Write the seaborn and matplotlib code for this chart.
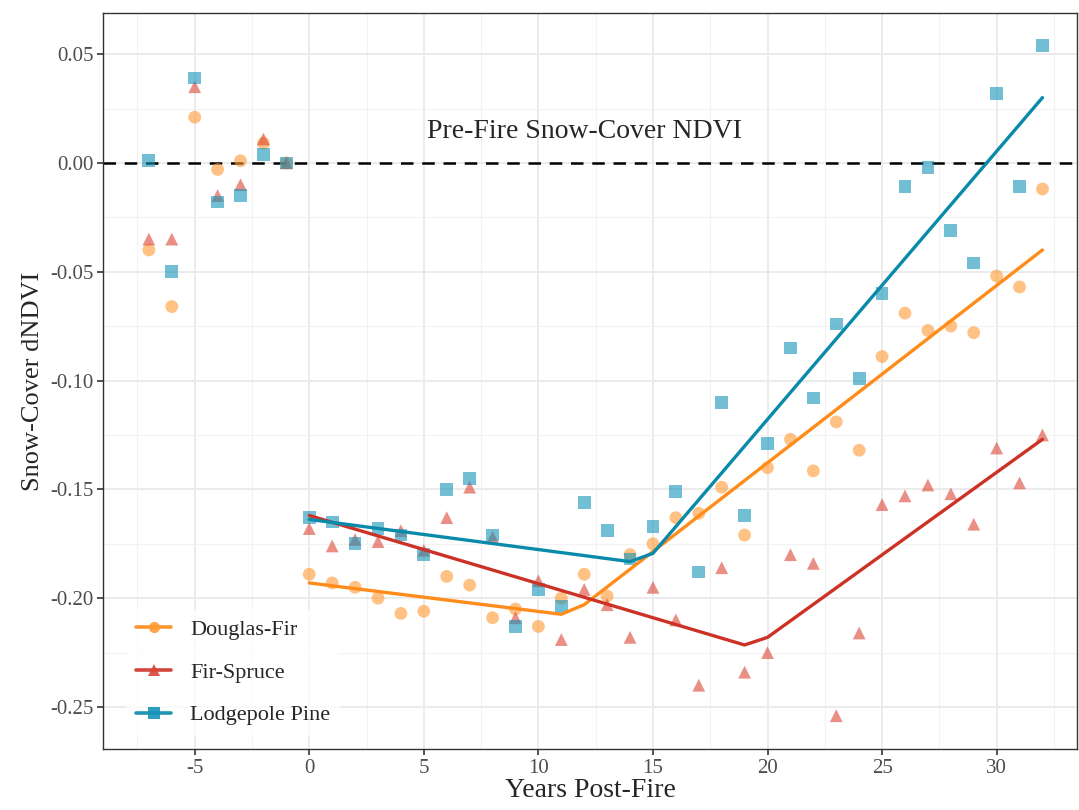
import numpy as np
import pandas as pd
import matplotlib
matplotlib.use("Agg")
import matplotlib.pyplot as plt
from matplotlib.lines import Line2D
from matplotlib.ticker import MultipleLocator
import seaborn as sns

# yearly snow-cover dNDVI, years -7 .. 32
years = list(range(-7, 33))

douglas_fir = [-0.040, -0.066, 0.021, -0.003, 0.001, 0.009, 0.000,
               -0.189, -0.193, -0.195, -0.200, -0.207, -0.206, -0.190, -0.194,
               -0.209, -0.205, -0.213, -0.200, -0.189, -0.199, -0.180, -0.175,
               -0.163, -0.161, -0.149, -0.171, -0.140, -0.127, -0.1415, -0.119,
               -0.132, -0.089, -0.069, -0.077, -0.075, -0.078, -0.052, -0.057, -0.012]

fir_spruce = [-0.035, -0.035, 0.035, -0.015, -0.010, 0.011, 0.000,
              -0.168, -0.176, -0.173, -0.174, -0.169, -0.178, -0.163, -0.149,
              -0.172, -0.209, -0.192, -0.219, -0.196, -0.203, -0.218, -0.195,
              -0.210, -0.240, -0.186, -0.234, -0.225, -0.180, -0.184, -0.254,
              -0.216, -0.157, -0.153, -0.148, -0.152, -0.166, -0.131, -0.147, -0.125]

lodgepole = [0.001, -0.050, 0.039, -0.018, -0.015, 0.004, 0.000,
             -0.163, -0.165, -0.175, -0.168, -0.171, -0.180, -0.150, -0.145,
             -0.171, -0.213, -0.196, -0.204, -0.156, -0.169, -0.182, -0.167,
             -0.151, -0.188, -0.110, -0.162, -0.129, -0.085, -0.108, -0.074,
             -0.099, -0.060, -0.011, -0.002, -0.031, -0.046, 0.032, -0.011, 0.054]

# segmented regression fits (knots)
fit_df_x = [0, 11, 12, 32]
fit_df_y = [-0.193, -0.2074, -0.203, -0.040]
fit_fs_x = [0, 19, 20, 32]
fit_fs_y = [-0.162, -0.2215, -0.218, -0.127]
fit_lp_x = [0, 14, 15, 32]
fit_lp_y = [-0.1638, -0.1832, -0.1794, 0.030]

types = ["Douglas-Fir", "Fir-Spruce", "Lodgepole Pine"]
line_cols = ["#FF8C1A", "#CC3326", "#0A8AAA"]
pt_cols = ["#FF9A33", "#DB4536", "#1594B8"]
markers = ["o", "^", "s"]

pts = pd.DataFrame({
    "year": years * 3,
    "dndvi": douglas_fir + fir_spruce + lodgepole,
    "type": [t for t in types for _ in years],
})
fits = pd.DataFrame({
    "year": fit_df_x + fit_fs_x + fit_lp_x,
    "dndvi": fit_df_y + fit_fs_y + fit_lp_y,
    "type": [types[0]] * 4 + [types[1]] * 4 + [types[2]] * 4,
})

sns.set_theme(style="whitegrid")
plt.rcParams["font.family"] = ["Liberation Serif", "DejaVu Serif"]
plt.rcParams["axes.unicode_minus"] = False

fig = plt.figure(figsize=(10.79, 8.10), dpi=100)
ax = fig.add_axes([0.0955, 0.0753, 0.9025, 0.9087])

ax.axhline(0, color="black", lw=1.8, ls=(0, (5, 3.5)), zorder=2)

sns.scatterplot(data=pts, x="year", y="dndvi", hue="type", style="type",
                hue_order=types, style_order=types,
                palette=dict(zip(types, pt_cols)),
                markers=dict(zip(types, markers)),
                s=85, alpha=0.6, linewidth=0, legend=False, ax=ax, zorder=3)
sns.lineplot(data=fits, x="year", y="dndvi", hue="type", hue_order=types,
             palette=dict(zip(types, line_cols)), lw=2.4, legend=False,
             ax=ax, zorder=4)

ax.text(12, 0.0145, "Pre-Fire Snow-Cover NDVI", fontsize=20, ha="center",
        va="center")

ax.set_xlim(-9.0, 33.5)
ax.set_ylim(-0.2693, 0.0689)
ax.xaxis.set_major_locator(MultipleLocator(5))
ax.xaxis.set_minor_locator(MultipleLocator(2.5))
ax.yaxis.set_major_locator(MultipleLocator(0.05))
ax.yaxis.set_minor_locator(MultipleLocator(0.025))
ax.set_yticks(ax.get_yticks())
ax.set_yticklabels([f"{v:.2f}" for v in ax.get_yticks()])
ax.set_ylim(-0.2693, 0.0689)
ax.grid(which="major", color="#EBEBEB", lw=1.4)
ax.grid(which="minor", color="#F2F2F2", lw=0.8)
ax.set_axisbelow(True)
for sp in ax.spines.values():
    sp.set_color("#333333")
    sp.set_linewidth(1.0)
ax.tick_params(axis="both", which="major", length=4, width=1.2, color="#333333",
               labelsize=15, labelcolor="#4D4D4D", bottom=True, left=True, pad=3)
ax.tick_params(which="minor", length=0)

ax.set_xlabel("Years Post-Fire", fontsize=20, labelpad=0)
ax.set_ylabel("Snow-Cover dNDVI", fontsize=19, labelpad=4)

handles = [Line2D([0], [0], color=lc, lw=2.6, marker=m, markersize=8,
                  markerfacecolor=pc, markeredgewidth=0, alpha=0.9)
           for lc, pc, m in zip(line_cols, pt_cols, markers)]
leg = ax.legend(handles, types, loc="lower left", bbox_to_anchor=(0.0246, 0.02),
                borderaxespad=0, frameon=True, fontsize=16, handlelength=1.6,
                handletextpad=0.85, labelspacing=1.0, borderpad=0.4)
leg.get_frame().set_facecolor("white")
leg.get_frame().set_edgecolor("white")

fig.savefig("out.png", dpi=100)
